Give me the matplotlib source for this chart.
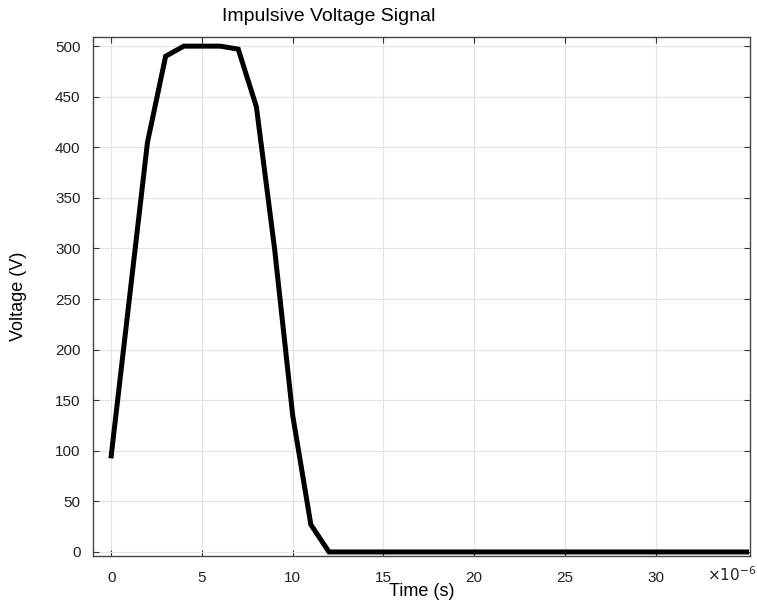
import matplotlib.pyplot as plt

# time in microseconds, voltage in volts
t_us = list(range(0, 36))
voltage = [95, 250, 405, 490, 500, 500, 500, 497, 440, 300, 135, 27] + [0] * 24

plt.rcParams['font.family'] = ['Liberation Sans', 'DejaVu Sans']

fig = plt.figure(figsize=(7.57, 6.07), dpi=100)
ax = fig.add_axes([0.1229, 0.084, 0.868, 0.855])

ax.plot(t_us, voltage, color='black', linewidth=3.6, solid_joinstyle='miter')

ax.set_xlim(-1, 35.2)
ax.set_ylim(-4, 509)
ax.set_xticks([0, 5, 10, 15, 20, 25, 30])
ax.set_yticks(range(0, 501, 50))
ax.grid(True, color='#e3e3e3', linewidth=0.8)
ax.tick_params(direction='in', top=True, right=True, length=4, width=0.8,
               colors='#333333', labelsize=11)
ax.tick_params(axis='x', pad=11)
ax.tick_params(axis='y', pad=9)
for lbl in ax.get_xticklabels() + ax.get_yticklabels():
    lbl.set_color('#222222')
for s in ax.spines.values():
    s.set_color('#444444')
    s.set_linewidth(1.0)

ax.set_xlabel('Time (s)', fontsize=13, labelpad=-2)
ax.set_ylabel('Voltage (V)', fontsize=13, labelpad=20)
ax.text(1.01, -0.035, r'$\times10^{-6}$', transform=ax.transAxes, fontsize=11,
        ha='right', va='center', color='#222222')
fig.text(0.434, 0.972, 'Impulsive Voltage Signal', fontsize=14, ha='center', va='center')

fig.savefig('out.png', dpi=100)
